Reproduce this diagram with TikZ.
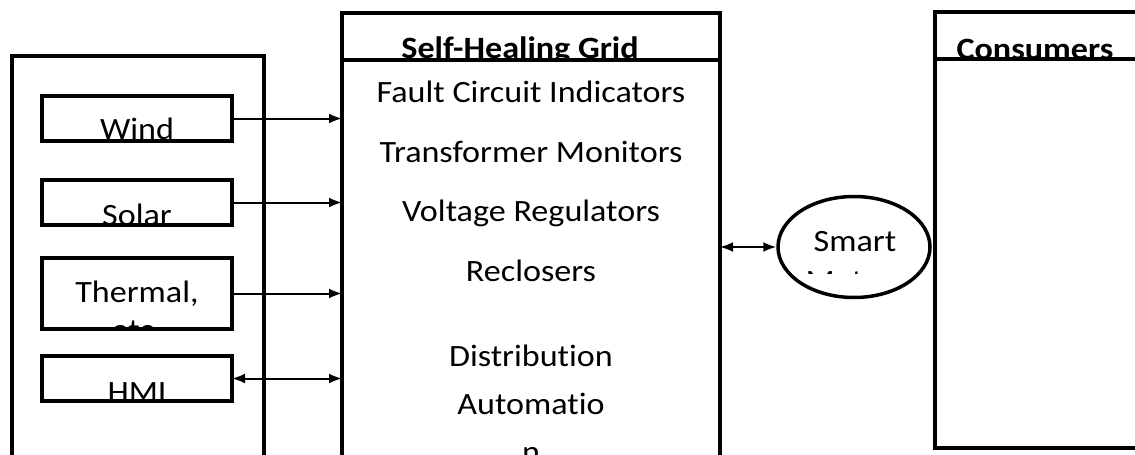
\documentclass[tikz,border=0pt]{standalone}
\usepackage{fontspec}
\setmainfont[FakeStretch=1.1,Ligatures=CommonOff]{Carlito}
\usetikzlibrary{arrows.meta,shapes.geometric}

\begin{document}
\begin{tikzpicture}[x=1pt,y=-1pt,
	box/.style={draw,line width=3.5pt,inner sep=0pt,outer sep=0pt,anchor=north west},
	txt/.style={font=\fontsize{31}{37}\selectfont,anchor=base,inner sep=0pt},
	ttl/.style={txt,font=\fontsize{31}{37}\selectfont\bfseries},
	>={Latex[length=13pt,width=10pt]}]
	\clip (0,0) rectangle (1135,455);
	% generation side
	\node[box,minimum width=252pt,minimum height=430pt](src) at (12,56){};
	\node[box,minimum width=190pt,minimum height=45pt](wind) at (42,96){};
	\node[box,minimum width=190pt,minimum height=45pt](solar) at (42,180){};
	\node[box,minimum width=190pt,minimum height=71pt](thermal) at (42,258){};
	\node[box,minimum width=190pt,minimum height=45pt](hmi) at (42,356){};
	% self-healing grid
	\node[box,minimum width=378pt,minimum height=47pt](gridhead) at (342,13){};
	\node[box,minimum width=378pt,minimum height=420pt](grid) at (342,60){};
	% consumers
	\node[box,minimum width=230pt,minimum height=47pt](conshead) at (935,12){};
	\node[box,minimum width=230pt,minimum height=389pt](cons) at (935,59){};
	\node[ellipse,draw,line width=3.5pt,inner sep=0pt,minimum width=152pt,minimum height=101pt](meter) at (854,247){};
	% clipped labels
	\begin{scope}
		\clip (wind.north west) rectangle (wind.south east);
		\node[txt](windtxt) at (137,139.6){Wind};
	\end{scope}
	\begin{scope}
		\clip (solar.north west) rectangle (solar.south east);
		\node[txt](solartxt) at (137,225){Solar};
	\end{scope}
	\begin{scope}
		\clip (thermal.north west) rectangle (thermal.south east);
		\node[txt](thermaltxt) at (137,302.6){Thermal,};
		\node[txt](etctxt) at (137,340){etc.};
	\end{scope}
	\begin{scope}
		\clip (hmi.north west) rectangle (hmi.south east);
		\node[txt](hmitxt) at (137,402.6){HMI};
	\end{scope}
	\begin{scope}
		\clip (gridhead.north west) rectangle (gridhead.south east);
		\node[ttl](gridttl) at (520,58){Self-Healing Grid};
	\end{scope}
	\begin{scope}
		\clip (conshead.north west) rectangle (conshead.south east);
		\node[ttl](consttl) at (1035,59.6){Consumers};
	\end{scope}
	\begin{scope}
		\clip (780,200) rectangle (930,273);
		\node[txt](smart) at (855,251.6){Smart};
		\node[txt](meters) at (855,291){Meters};
	\end{scope}
	% devices
	\node[txt](fci) at (531,102.6){Fault Circuit Indicators};
	\node[txt](tm) at (531,162.6){Transformer Monitors};
	\node[txt](vr) at (531,221.3){Voltage Regulators};
	\node[txt](rec) at (531,281.3){Reclosers};
	\node[txt](dist) at (531,366.3){Distribution};
	\node[txt](auto) at (531,414.6){Automatio};
	\node[txt](auton) at (531,462.4){n};
	% links
	\draw[->,line width=2pt](wind.east)--(wind.east -| grid.west);
	\draw[->,line width=2pt](solar.east)--(solar.east -| grid.west);
	\draw[->,line width=2pt](thermal.east)--(thermal.east -| grid.west);
	\draw[<->,line width=2pt](hmi.east)--(hmi.east -| grid.west);
	\draw[<->,line width=2pt](grid.east |- meter.west)--(meter.west);
\end{tikzpicture}
\end{document}
